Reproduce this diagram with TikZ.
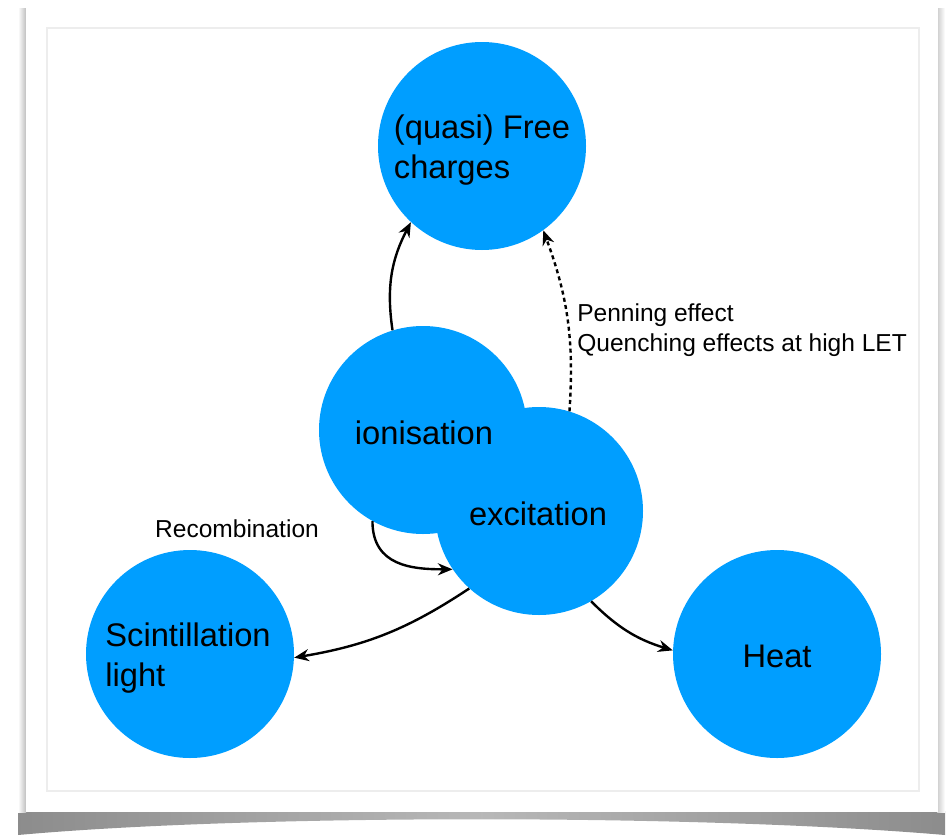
\documentclass[tikz,border=0pt]{standalone}
\usepackage{fontspec}
\setmainfont{Liberation Sans}
\usetikzlibrary{arrows.meta}

\definecolor{blobblue}{RGB}{0,158,255}

\tikzset{
  blob/.style={circle, fill=blobblue, minimum size=156pt, inner sep=0pt},
  blobtext/.style={align=left, inner sep=0pt, font=\fontsize{24.5}{30}\selectfont},
  note/.style={align=left, inner sep=0pt, font=\fontsize{18.4}{22.5}\selectfont},
  flow/.style={line width=1.8pt, -{Stealth[length=11pt,width=9pt]}}
}

\begin{document}
\begin{tikzpicture}[x=0.75pt, y=-0.75pt]
  \useasboundingbox (0,0) rectangle (952,835);
  % card and its shadow
  \shade[left color=black!45, right color=black!45, middle color=black!28]
    (18,811) -- (945,811) -- (945,835) .. controls (700,814) and (250,814) .. (18,835) -- cycle;
  \shade[left color=white, right color=black!25] (18,8) rectangle (26,812);
  \shade[left color=black!20, right color=white] (937,8) rectangle (945,812);
  \fill[white] (26,5) rectangle (938,812);
  \draw[black!7, line width=0.8pt] (47,28) rectangle (919,791);

  \node[blob] (free) at (482,146) {};
  \node[blob] (ion) at (423,430) {};
  \node[blob] (exc) at (539,511) {};
  \node[blob] (scint) at (190,654) {};
  \node[blob] (heat) at (777,654) {};

  \node[blobtext] (freetxt) at (482,150) {(quasi) Free\\charges};
  \node[blobtext] (iontxt) at (424,433) {ionisation};
  \node[blobtext] (exctxt) at (538,514) {excitation};
  \node[blobtext] (scinttxt) at (188,658) {Scintillation\\light};
  \node[blobtext] (heattxt) at (777,656) {Heat};

  \draw[flow] (ion.107) to[bend left=18] (free.227);
  \draw[flow, dash pattern=on 3pt off 2.5pt] (exc.73) to[bend right=12] (free.306);
  \draw[flow] (ion.241) .. controls +(0,45) and +(-40,0) .. (exc.214);
  \draw[flow] (exc.228) to[bend left=12] (scint.358);
  \draw[flow] (exc.300) to[bend right=14] (heat.178);

  \node[note] (recomb) at (237,529) {Recombination};
  \node[note, anchor=north west] (penning) at (577,303)
    {Penning effect\\Quenching effects at high LET};
\end{tikzpicture}
\end{document}
